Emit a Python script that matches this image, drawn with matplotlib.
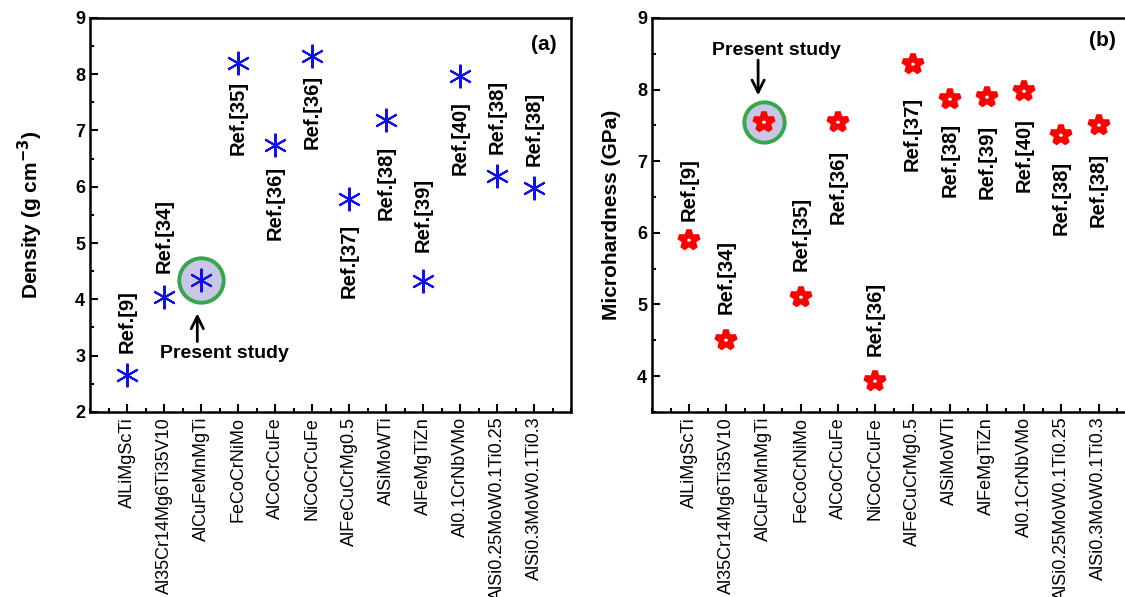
import matplotlib
matplotlib.use("Agg")
import matplotlib.pyplot as plt
from matplotlib.ticker import MultipleLocator

plt.rcParams['font.family'] = ['Liberation Sans', 'DejaVu Sans']

alloys = ["AlLiMgScTi", "Al35Cr14Mg6Ti35V10", "AlCuFeMnMgTi", "FeCoCrNiMo",
          "AlCoCrCuFe", "NiCoCrCuFe", "AlFeCuCrMg0.5", "AlSiMoWTi",
          "AlFeMgTiZn", "Al0.1CrNbVMo", "AlSi0.25MoW0.1Ti0.25", "AlSi0.3MoW0.1Ti0.3"]
density = [2.65, 4.04, 4.34, 8.2, 6.74, 8.33, 5.78, 7.19, 4.33, 7.97, 6.2, 5.97]
hardness = [5.9, 4.5, 7.55, 5.1, 7.55, 3.93, 8.36, 7.87, 7.9, 7.98, 7.36, 7.5]

refs_a = ["Ref.[9]", "Ref.[34]", None, "Ref.[35]", "Ref.[36]", "Ref.[36]",
          "Ref.[37]", "Ref.[38]", "Ref.[39]", "Ref.[40]", "Ref.[38]", "Ref.[38]"]
# label anchor y and which end is anchored (bottom = above star, top = below star)
lab_a_y = [3.05, 4.47, None, 7.88, 6.38, 7.98, 5.34, 6.73, 4.85, 7.52, 6.58, 6.37]
lab_a_va = ["bottom", "bottom", None, "top", "top", "top", "top", "top",
            "bottom", "top", "bottom", "bottom"]

refs_b = ["Ref.[9]", "Ref.[34]", None, "Ref.[35]", "Ref.[36]", "Ref.[36]",
          "Ref.[37]", "Ref.[38]", "Ref.[39]", "Ref.[40]", "Ref.[38]", "Ref.[38]"]
lab_b_y = [6.17, 4.86, None, 5.47, 7.16, 4.28, 7.9, 7.54, 7.5, 7.6, 7.0, 7.12]
lab_b_va = ["bottom", "bottom", None, "bottom", "top", "bottom", "top", "top",
            "top", "top", "top", "top"]

x = list(range(1, len(alloys) + 1))
present = 2  # index of the present study alloy

fig = plt.figure(figsize=(11.25, 5.97), dpi=100)
axa = fig.add_axes([0.080, 0.310, 0.4276, 0.660])
axb = fig.add_axes([0.5796, 0.310, 0.430, 0.660])


def style(ax, ylim):
    ax.set_xlim(0, 13)
    ax.set_ylim(*ylim)
    ax.set_xticks(x)
    ax.set_xticklabels(alloys, rotation=90, fontsize=13)
    ax.xaxis.set_minor_locator(MultipleLocator(0.5))
    ax.yaxis.set_major_locator(MultipleLocator(1))
    ax.yaxis.set_minor_locator(MultipleLocator(0.5))
    ax.tick_params(which="both", direction="in", width=1.5)
    ax.tick_params(which="major", length=6)
    ax.tick_params(which="minor", length=3)
    ax.tick_params(axis="y", labelsize=13)
    for t in ax.get_yticklabels():
        t.set_fontweight("bold")
    for s in ax.spines.values():
        s.set_linewidth(1.8)


# (a) density
style(axa, (2, 9))
axa.plot(x[present], density[present], "o", ms=32, mfc="#c9c6e8", mec="#35a84a", mew=2.8, zorder=2)
axa.plot(x, density, ls="none", marker=(6, 2, 0), ms=17, mec="#1010e8", mew=1.5, zorder=3)
for i, r in enumerate(refs_a):
    if r:
        axa.text(x[i], lab_a_y[i], r, rotation=90, ha="center", va=lab_a_va[i],
                 fontsize=14.5, fontweight="bold")
axa.annotate("", xy=(2.9, 3.8), xytext=(2.9, 3.2),
             arrowprops=dict(arrowstyle="->", lw=2, color="black", mutation_scale=22))
axa.text(3.62, 3.04, "Present study", ha="center", va="center", fontsize=14, fontweight="bold")
axa.text(12.27, 8.52, "(a)", ha="center", va="center", fontsize=15, fontweight="bold")
axa.set_ylabel("Density (g cm$^{\\mathbf{-3}}$)", fontsize=15, fontweight="bold", labelpad=22)

# (b) microhardness
style(axb, (3.5, 9))
axb.plot(x[present], hardness[present], "o", ms=29, mfc="#c9c6e8", mec="#35a84a", mew=2.8, zorder=2)
axb.plot(x, hardness, ls="none", marker="*", ms=15, mfc="white", mec="#ff0000", mew=4, zorder=3)
for i, r in enumerate(refs_b):
    if r:
        axb.text(x[i], lab_b_y[i], r, rotation=90, ha="center", va=lab_b_va[i],
                 fontsize=14.5, fontweight="bold")
axb.annotate("", xy=(2.85, 7.88), xytext=(2.85, 8.45),
             arrowprops=dict(arrowstyle="->", lw=2, color="black", mutation_scale=22))
axb.text(3.33, 8.55, "Present study", ha="center", va="center", fontsize=14, fontweight="bold")
axb.text(12.1, 8.69, "(b)", ha="center", va="center", fontsize=15, fontweight="bold")
axb.set_ylabel("Microhardness (GPa)", fontsize=15, fontweight="bold", labelpad=12)

fig.savefig("out.png", dpi=100)
